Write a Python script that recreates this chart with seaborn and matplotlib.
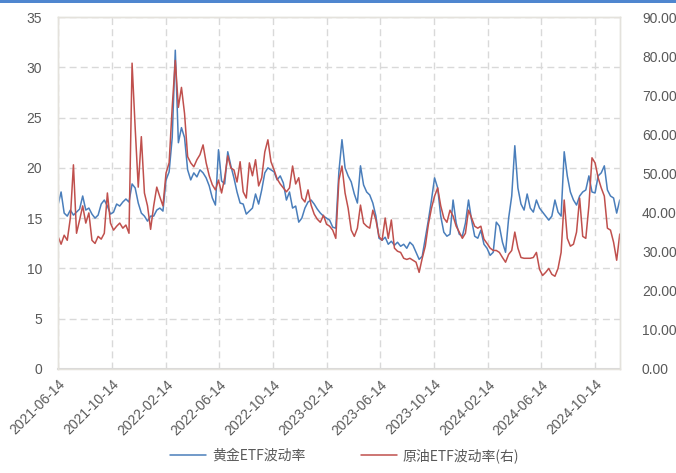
import matplotlib
matplotlib.use("Agg")
import matplotlib.pyplot as plt
import matplotlib.dates as mdates
from matplotlib.lines import Line2D
from matplotlib.patches import Rectangle
import seaborn as sns
import pandas as pd

# weekly readings, 2021-06-14 .. 2024-12-09
dates = pd.date_range("2021-06-14", periods=183, freq="7D")

gold_vol = [
    16.3, 17.6, 15.5, 15.2, 15.8, 15.3, 15.6, 15.9, 17.2, 15.8,
    16.0, 15.4, 15.0, 15.3, 16.4, 16.8, 16.2, 15.4, 15.6, 16.4,
    16.2, 16.6, 16.9, 16.6, 18.4, 18.0, 16.5, 15.5, 15.2, 14.7,
    15.2, 15.2, 15.8, 16.0, 15.7, 18.8, 19.6, 23.0, 31.7, 22.5,
    24.0, 23.0, 19.8, 18.8, 19.5, 19.1, 19.8, 19.5, 19.0, 18.2,
    17.0, 16.3, 21.8, 18.7, 18.4, 21.6, 20.2, 19.0, 17.6, 16.5,
    16.4, 15.4, 15.7, 16.0, 17.4, 16.4, 17.8, 19.5, 20.0, 19.8,
    19.6, 18.8, 19.2, 18.5, 16.8, 17.6, 16.0, 16.2, 14.6, 15.0,
    16.0, 16.6, 16.8, 16.4, 15.9, 15.5, 15.2, 15.0, 14.8, 14.1,
    14.0, 19.6, 22.8, 20.0, 19.2, 18.6, 17.4, 16.5, 20.2, 18.3,
    17.6, 17.3, 16.5, 15.2, 13.0, 12.8, 13.1, 12.4, 12.7, 12.3,
    12.6, 12.2, 12.4, 12.0, 12.6, 12.3, 11.6, 10.9, 11.2, 13.0,
    14.8, 16.8, 19.0, 18.0, 15.2, 13.6, 13.2, 13.4, 16.8, 14.5,
    13.4, 13.2, 14.5, 16.8, 14.8, 13.2, 13.0, 13.8, 12.4, 12.0,
    11.3, 11.6, 14.6, 14.2, 12.6, 11.6, 15.0, 17.2, 22.2, 18.0,
    16.4, 15.8, 17.4, 16.0, 15.6, 16.8, 16.0, 15.6, 15.2, 14.8,
    15.2, 16.8, 15.6, 15.2, 21.6, 19.2, 17.6, 16.8, 16.3, 17.2,
    17.6, 17.8, 19.2, 17.6, 17.5, 19.2, 19.5, 20.2, 17.8, 17.2,
    17.0, 15.5, 16.8,
]

oil_vol = [
    33.9, 31.9, 34.2, 32.9, 38.6, 52.2, 34.7, 38.1, 41.7, 37.3,
    39.9, 32.9, 32.1, 33.9, 33.2, 34.7, 45.0, 37.3, 35.5, 36.5,
    37.3, 36.0, 36.8, 34.7, 78.2, 61.7, 46.5, 59.4, 45.0, 41.7,
    35.7, 41.7, 46.5, 44.0, 41.7, 50.1, 52.7, 66.9, 78.9, 66.9,
    72.0, 65.3, 54.3, 52.7, 51.7, 53.5, 54.8, 57.3, 52.7, 49.4,
    47.1, 45.8, 48.3, 45.0, 48.9, 54.5, 51.4, 50.9, 47.8, 53.0,
    45.3, 43.7, 52.7, 49.4, 53.5, 46.8, 48.9, 55.5, 58.6, 53.0,
    50.9, 48.6, 47.3, 46.3, 45.3, 46.3, 51.9, 47.3, 48.9, 43.7,
    42.7, 45.8, 41.9, 39.6, 38.3, 37.5, 39.3, 37.0, 36.5, 35.5,
    33.4, 48.3, 51.9, 45.0, 41.1, 35.5, 33.9, 36.0, 41.9, 37.3,
    36.5, 36.0, 40.6, 38.1, 33.9, 32.9, 38.6, 33.4, 38.1, 30.9,
    30.1, 29.8, 28.3, 28.0, 28.3, 27.8, 27.3, 24.7, 28.3, 31.4,
    37.0, 41.1, 44.2, 46.3, 41.7, 38.6, 37.5, 40.6, 39.1, 36.5,
    35.0, 33.4, 34.7, 40.6, 38.6, 36.5, 36.0, 36.5, 33.2, 32.1,
    30.9, 30.3, 30.3, 29.8, 28.5, 27.3, 29.3, 30.3, 35.0, 30.9,
    28.5, 28.3, 28.3, 28.3, 28.5, 29.8, 25.5, 23.9, 24.7, 25.7,
    24.2, 23.7, 25.7, 29.8, 43.2, 33.4, 31.4, 31.9, 35.0, 43.7,
    33.9, 33.4, 41.7, 54.0, 52.7, 48.9, 46.3, 44.2, 36.0, 35.5,
    32.4, 27.8, 34.5,
]

left_ticks = [0, 5, 10, 15, 20, 25, 30, 35]
right_ticks = [0, 10, 20, 30, 40, 50, 60, 70, 80, 90]

gold_label = "黄金ETF波动率"
oil_label = "原油ETF波动率(右)"
blue = "#4a7ebb"
red = "#c0504d"
grid_c = "#d9d9d9"
text_c = "#595959"

sns.set_style("white")
plt.rcParams["font.family"] = ["Liberation Sans", "Noto Sans CJK SC", "DejaVu Sans"]

df = pd.DataFrame({"date": dates, "gold": gold_vol, "oil": oil_vol})

fig = plt.figure(figsize=(6.76, 4.73), dpi=100)
ax = fig.add_axes([0.0858, 0.22, 0.831, 0.744])
ax2 = ax.twinx()

sns.lineplot(data=df, x="date", y="gold", ax=ax, color=blue, linewidth=1.1)
sns.lineplot(data=df, x="date", y="oil", ax=ax2, color=red, linewidth=1.1)

ax.set_ylim(0, 35)
ax.set_yticks(left_ticks)
ax2.set_ylim(0, 90)
ax2.set_yticks(right_ticks)
ax2.set_yticklabels([f"{v:.2f}" for v in right_ticks])
ax.set_xlim(dates[0], dates[-1])

ax.xaxis.set_major_locator(mdates.MonthLocator(bymonth=[2, 6, 10], bymonthday=14))
ax.xaxis.set_major_formatter(mdates.DateFormatter("%Y-%m-%d"))
for lab in ax.get_xticklabels():
    lab.set_rotation(45)
    lab.set_ha("right")
    lab.set_rotation_mode("anchor")

ax.grid(True, color=grid_c, linestyle=(0, (5, 3)), linewidth=1)
ax2.grid(False)
ax.set_axisbelow(True)

ax.set_xlabel("")
ax.set_ylabel("")
ax2.set_ylabel("")
ax.tick_params(axis="y", length=0, labelsize=10, labelcolor=text_c, pad=11.5)
ax2.tick_params(axis="y", length=0, labelsize=10, labelcolor=text_c, pad=16)
ax.tick_params(axis="x", length=4, color=grid_c, labelsize=10, labelcolor=text_c, pad=2)
for a in (ax, ax2):
    for s in a.spines.values():
        s.set_color("#e4e2dc")
        s.set_linewidth(1)
ax.spines["bottom"].set_color(grid_c)
ax.spines["bottom"].set_linewidth(1.5)

handles = [Line2D([], [], color=blue, linewidth=1.1), Line2D([], [], color=red, linewidth=1.1)]
fig.legend(handles, [gold_label, oil_label], loc="lower center", bbox_to_anchor=(0.51, -0.005),
           ncol=2, frameon=False, handlelength=2.6, columnspacing=4, handletextpad=0.4,
           prop={"family": ["Noto Sans CJK SC", "DejaVu Sans"], "size": 10},
           labelcolor=text_c)

fig.add_artist(Rectangle((0, 1 - 3 / 473), 1, 3 / 473, transform=fig.transFigure,
                         color="#4f86cf", linewidth=0))

fig.savefig("out.png", dpi=100)
